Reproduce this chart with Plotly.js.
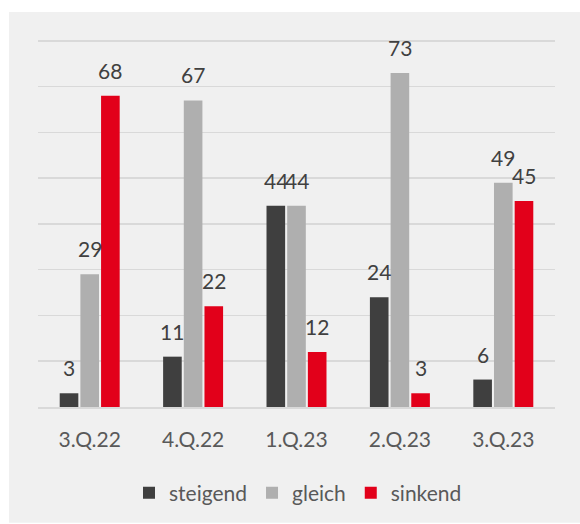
<!DOCTYPE html>
<html>
<head>
<meta charset="utf-8">
<script src="https://cdn.plot.ly/plotly-3.0.1.min.js"></script>
<style>
html,body{margin:0;padding:0;background:#fff;}
#chart{width:580px;height:524px;}
</style>
</head>
<body>
<div id="chart"></div>
<script>
const categories = ['3.Q.22', '4.Q.22', '1.Q.23', '2.Q.23', '3.Q.23'];
const steigend = [3, 11, 44, 24, 6];
const gleich = [29, 67, 44, 73, 49];
const sinkend = [68, 22, 12, 3, 45];
const seriesNames = ['steigend', 'gleich', 'sinkend'];
const seriesColors = ['#3f3f3f', '#afafaf', '#e2001a'];

const W = 580, H = 524;
const M = {l: 38, r: 25, t: 32, b: 116};
const plotW = W - M.l - M.r, plotH = H - M.t - M.b;
const bargap = 0.4;
const FONT = 'Lato, "Open Sans", sans-serif';

const seriesData = [steigend, gleich, sinkend];
const traces = seriesData.map((vals, i) => ({
  type: 'bar',
  name: seriesNames[i],
  x: categories,
  y: vals,
  marker: {color: seriesColors[i]},
  hoverinfo: 'x+y+name'
}));

const slot = plotW / categories.length * (1 - bargap) / 3;
const annotations = [];
seriesData.forEach((vals, i) => {
  vals.forEach((v, j) => {
    annotations.push({
      x: categories[j], y: v, xref: 'x', yref: 'y',
      text: String(v), showarrow: false,
      xshift: (i - 1) * slot, yshift: 11,
      yanchor: 'bottom', xanchor: 'center',
      font: {family: FONT, size: 21, color: '#404040'}
    });
  });
});

// paper coordinates of the grey panel
const px = x => (x - M.l) / plotW;
const py = y => (H - M.b - y) / plotH;

const layout = {
  width: W, height: H,
  margin: M,
  paper_bgcolor: '#ffffff',
  plot_bgcolor: 'rgba(0,0,0,0)',
  bargap: bargap,
  bargroupgap: 0.1,
  barmode: 'group',
  font: {family: FONT, size: 21, color: '#595959'},
  shapes: [{
    type: 'rect', xref: 'paper', yref: 'paper', layer: 'below',
    x0: px(9), x1: px(580), y0: py(524), y1: py(12),
    fillcolor: '#f0f0f0', line: {width: 0}
  }],
  xaxis: {
    type: 'category',
    showgrid: false, zeroline: false,
    showline: true, linecolor: '#d9d9d9', linewidth: 2,
    ticks: '', ticklabelstandoff: 13,
    tickfont: {family: FONT, size: 21, color: '#595959'}
  },
  yaxis: {
    range: [0, 81.95], tickmode: 'linear', dtick: 10, tick0: 0,
    showticklabels: false, ticks: '',
    showgrid: true, gridcolor: '#d9d9d9', gridwidth: 1.5,
    zeroline: false, showline: false
  },
  showlegend: true,
  legend: {
    orientation: 'h', xanchor: 'center', x: px(298),
    yanchor: 'middle', y: py(493),
    font: {family: FONT, size: 21, color: '#595959'},
    bgcolor: 'rgba(0,0,0,0)', itemwidth: 30, traceorder: 'normal'
  },
  annotations: annotations
};

Plotly.newPlot('chart', traces, layout, {displayModeBar: false, staticPlot: true});
</script>
</body>
</html>
